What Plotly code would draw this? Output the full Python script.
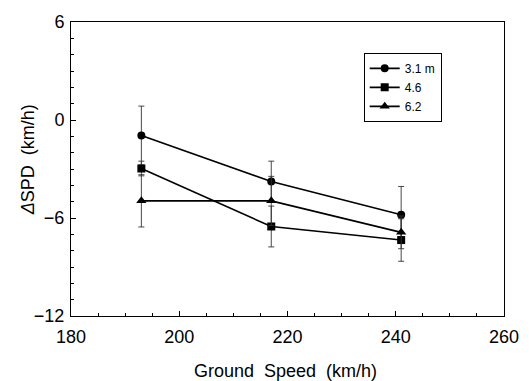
import plotly.graph_objects as go

ground_speed = [193, 217, 241]
series_names = ["3.1 m", "4.6", "6.2"]
spd_31 = [-0.95, -3.77, -5.8]
spd_46 = [-2.97, -6.52, -7.35]
spd_62 = [-4.95, -4.95, -6.88]
err_31 = [1.8, 1.25, 1.73]
err_46 = [0.45, 1.25, 1.3]
err_62 = [1.6, 1.5, 1.0]
symbols = ["circle", "square", "triangle-up"]

fig = go.Figure()
for name, ys, es, sym in zip(series_names, [spd_31, spd_46, spd_62], [err_31, err_46, err_62], symbols):
    fig.add_trace(go.Scatter(
        x=ground_speed, y=ys, name=name, mode="lines+markers",
        line=dict(color="black", width=1.6),
        marker=dict(symbol=sym, size=8 if sym != "triangle-up" else 9, color="black"),
        error_y=dict(type="data", array=es, visible=True, color="#333333", thickness=0.9, width=3),
    ))

font = "Liberation Sans, Arial, sans-serif"
fig.update_layout(
    width=531, height=381,
    margin=dict(l=71, r=22, t=15, b=65),
    plot_bgcolor="white", paper_bgcolor="white",
    font=dict(family=font, size=18, color="black"),
    showlegend=True,
    legend=dict(x=0.676, y=0.895, xanchor="left", yanchor="top",
                bordercolor="black", borderwidth=1, bgcolor="white",
                font=dict(size=12), tracegroupgap=0, itemwidth=30),
    annotations=[
        dict(text="Ground  Speed  (km/h)", xref="paper", yref="paper",
             x=0.495, y=(316 - 372) / 301, xanchor="center", yanchor="middle",
             showarrow=False, font=dict(size=18)),
        dict(text="<i>Δ</i>SPD  (km/h)", xref="paper", yref="paper",
             x=(27 - 71) / 438, y=(316 - 156) / 301, xanchor="center", yanchor="middle",
             textangle=-90, showarrow=False, font=dict(size=18)),
    ],
)
fig.update_xaxes(
    range=[180, 260], tickvals=[180, 200, 220, 240, 260],
    ticks="inside", ticklen=5, tickcolor="black",
    showline=True, linecolor="black", linewidth=1, mirror=True,
    showgrid=False, zeroline=False,
    minor=dict(dtick=5, ticks="inside", ticklen=3, tickcolor="black", showgrid=False),
    tickfont=dict(size=18), ticklabelstandoff=4,
)
fig.update_yaxes(
    range=[-12, 6], tickvals=[-12, -6, 0, 6],
    ticks="inside", ticklen=5, tickcolor="black",
    showline=True, linecolor="black", linewidth=1, mirror=True,
    showgrid=False, zeroline=False,
    minor=dict(dtick=1, ticks="inside", ticklen=3, tickcolor="black", showgrid=False),
    tickfont=dict(size=18), ticklabelstandoff=2,
)

fig.write_html("out.html")
